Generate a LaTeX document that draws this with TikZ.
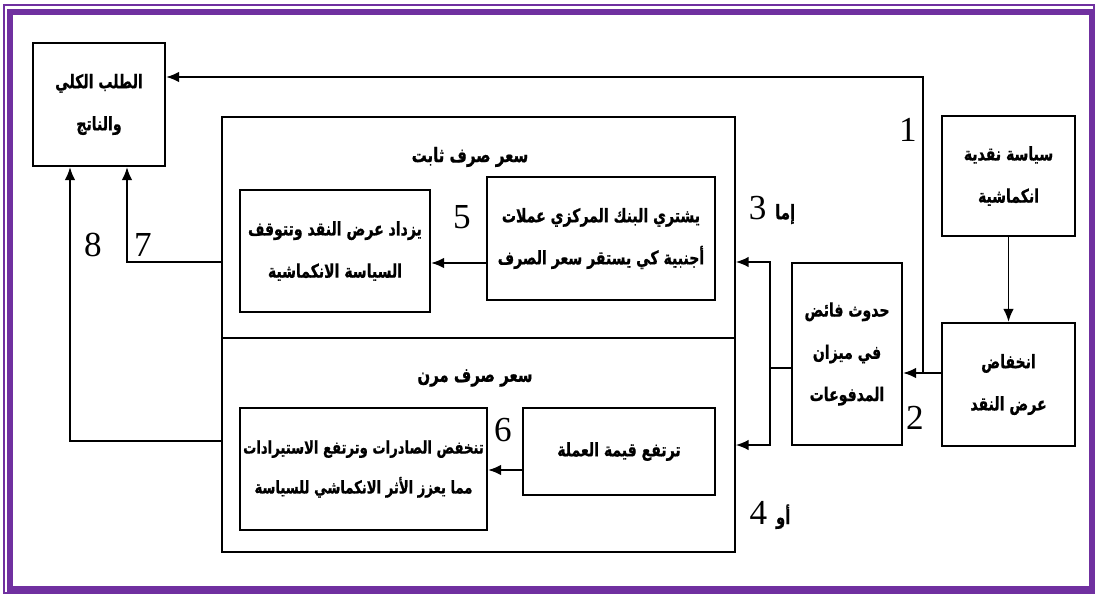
\documentclass[tikz,border=0pt]{standalone}
\usepackage{fontspec}
\usepackage{tikz}
\usetikzlibrary{arrows.meta}
\TeXXeTstate=1
\newfontfamily\arabicfont[Script=Arabic, FakeStretch=0.75, BoldFeatures={FakeBold=0.8}]{DejaVu Sans}
\newfontfamily\numfont{Liberation Serif}
\definecolor{framepurple}{HTML}{7030A0}
\newcommand{\px}{0.03cm}
\newcommand{\rtl}[1]{\beginR #1\endR}

\begin{document}
\begin{tikzpicture}[x=\px, y=-\px,
    box/.style={draw, line width=2pt, align=center, inner sep=0pt,
      font=\arabicfont\bfseries\fontsize{16}{36}\selectfont},
    frame/.style={draw, line width=1.3pt, inner sep=0pt},
    head/.style={inner sep=0pt, font=\arabicfont\bfseries\fontsize{17}{19}\selectfont},
    num/.style={inner sep=0pt, font=\numfont\fontsize{30}{30}\selectfont},
    arr/.style={line width=1.5pt, -{Latex[length=11pt,width=9pt]}},
    ln/.style={line width=1.5pt}]

      \useasboundingbox (0,0) rectangle (1097,594);
      \draw[framepurple, line width=1pt] (4,5) rectangle (1094,593);
      \draw[framepurple, line width=5pt] (10,12) rectangle (1092,589);

      % the two regimes
      \node (fixed) at (478.5,227.5) [frame, minimum width=513*\px, minimum height=221*\px] {};
      \node (flex) at (478.5,445) [frame, minimum width=513*\px, minimum height=214*\px] {};
      \node (fixedhd) at (470,157) [head] {\rtl{سعر صرف ثابت}};
      \node (flexhd) at (475,378) [head] {\rtl{سعر صرف مرن}};

      \node (ad) at (99,104.5) [box, minimum width=132*\px, minimum height=123*\px]
        {\rtl{الطلب الكلي}\\ \rtl{والناتج}};
      \node (policy) at (1008.5,176) [box, minimum width=133*\px, minimum height=120*\px]
        {\rtl{سياسة نقدية}\\ \rtl{انكماشية}};
      \node (decline) at (1008.5,384.5) [box, minimum width=133*\px, minimum height=123*\px]
        {\rtl{انخفاض}\\ \rtl{عرض النقد}};
      \node (surplus) at (847,354) [box, minimum width=110*\px, minimum height=182*\px]
        {\rtl{حدوث فائض}\\ \rtl{في ميزان}\\ \rtl{المدفوعات}};
      \node (buy) at (601,238.5) [box, minimum width=228*\px, minimum height=123*\px]
        {\rtl{يشتري البنك المركزي عملات}\\ \rtl{أجنبية كي يستقر سعر الصرف}};
      \node (more) at (335,251) [box, minimum width=190*\px, minimum height=122*\px]
        {\rtl{يزداد عرض النقد وتتوقف}\\ \rtl{السياسة الانكماشية}};
      \node (rise) at (619,451.5) [box, minimum width=192*\px, minimum height=87*\px]
        {\rtl{ترتفع قيمة العملة}};
      \node (fall) at (363.5,469) [box, minimum width=247*\px, minimum height=122*\px,
        font=\arabicfont\bfseries\fontsize{15}{34}\selectfont]
        {\rtl{تنخفض الصادرات وترتفع الاستيرادات}\\ \rtl{مما يعزز الأثر الانكماشي للسياسة}};

      \draw[arr] (policy) to (decline);

      \coordinate (j1) at (923,373);
      \coordinate (c1) at (923,77);
      \draw[ln] (j1 -| decline.west) to (j1);
      \draw[arr] (j1) to (j1 -| surplus.east);
      \draw[arr] (j1) to (c1) to (c1 -| ad.east);

      \coordinate (j2) at (770,368);
      \coordinate (c3) at (770,262);
      \coordinate (c4) at (770,445);
      \draw[ln] (j2 -| surplus.west) to (j2);
      \draw[arr] (j2) to (c3) to (c3 -| fixed.east);
      \draw[arr] (j2) to (c4) to (c4 -| flex.east);

      \coordinate (c5) at (460,263);
      \coordinate (c6) at (505,470);
      \draw[arr] (c5 -| buy.west) to (c5 -| more.east);
      \draw[arr] (c6 -| rise.west) to (c6 -| fall.east);

      \coordinate (c7) at (127,262);
      \coordinate (c8) at (70,441);
      \draw[arr] (c7 -| fixed.west) to (c7) to (c7 |- ad.south);
      \draw[arr] (c8 -| flex.west) to (c8) to (c8 |- ad.south);

      \node (n1) at (908,130) [num] {1};
      \node (n2) at (915,418) [num] {2};
      \node (n3) at (772,210) [num] {\rtl{{\arabicfont\bfseries\fontsize{17}{19}\selectfont إما} 3}};
      \node (n4) at (770,515) [num] {\rtl{{\arabicfont\bfseries\fontsize{17}{19}\selectfont أو} 4}};
      \node (n5) at (462,217) [num] {5};
      \node (n6) at (503,430) [num] {6};
      \node (n7) at (143,245) [num] {7};
      \node (n8) at (93,245) [num] {8};
\end{tikzpicture}
\end{document}
